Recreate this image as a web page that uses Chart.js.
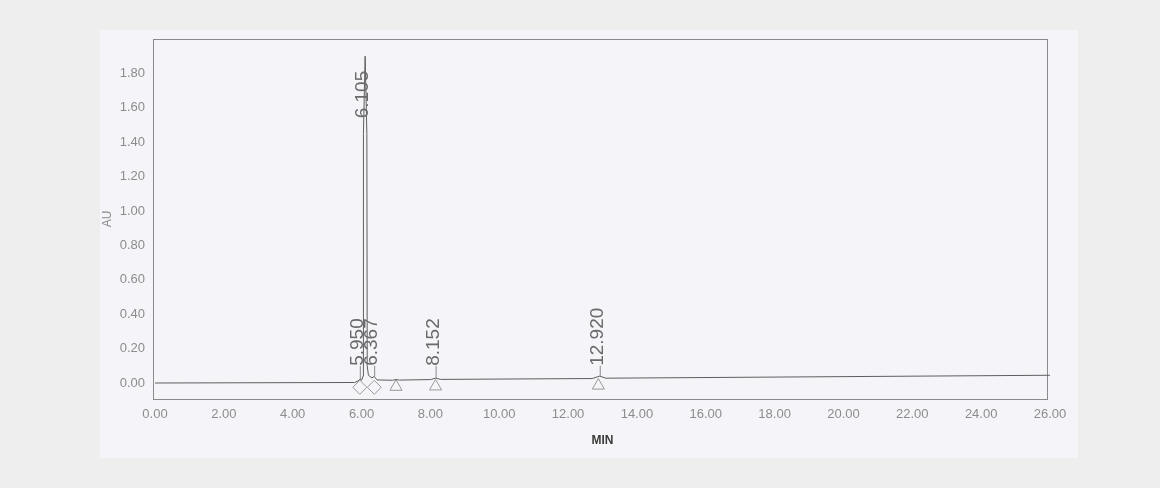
<!DOCTYPE html>
<html>
<head>
<meta charset="utf-8">
<script src="https://cdn.jsdelivr.net/npm/chart.js@4.4.1/dist/chart.umd.min.js"></script>
<style>
  html, body { margin: 0; padding: 0; background: #eeeeee; }
  #wrap { width: 1160px; height: 488px; position: relative; }
</style>
</head>
<body>
<div id="wrap"><canvas id="c" width="1160" height="488"></canvas></div>
<script>
// ---- data ----
const retentionTimes = [0, 5.80, 5.90, 5.95, 6.00, 6.045, 6.055, 6.105, 6.155, 6.165, 6.20, 6.30, 6.367, 6.45, 6.90, 7.00, 7.10, 8.00, 8.152, 8.30, 12.70, 12.92, 13.10, 26.00];
const absorbance     = [0, 0.003, 0.012, 0.022, 0.016, 0.04, 1.45, 1.90, 1.45, 0.10, 0.045, 0.03, 0.038, 0.018, 0.016, 0.02, 0.017, 0.02, 0.028, 0.021, 0.026, 0.04, 0.028, 0.045];

const peakTimes   = [5.950, 6.105, 6.367, 8.152, 12.920];
const peakHeights = [0.022, 1.90, 0.038, 0.028, 0.040];
const peakLabels  = ["5.950", "6.105", "6.367", "8.152", "12.920"];

const markerTimes  = [5.95, 6.37, 7.00, 8.15, 12.88];
const markerValues = [-0.025, -0.025, -0.022, -0.02, -0.015];
const markerShapes = ["rectRot", "rectRot", "triangle", "triangle", "triangle"];

const xTicks = [0, 2, 4, 6, 8, 10, 12, 14, 16, 18, 20, 22, 24, 26];
const yTicks = [0, 0.2, 0.4, 0.6, 0.8, 1.0, 1.2, 1.4, 1.6, 1.8];

// ---- plugins ----
const paperPlugin = {
  id: 'paper',
  beforeDraw(chart) {
    const ctx = chart.ctx;
    ctx.save();
    ctx.fillStyle = '#eeeeee';
    ctx.fillRect(0, 0, chart.width, chart.height);
    ctx.fillStyle = '#f5f5f9';
    ctx.fillRect(100, 30, 978, 428);
    ctx.restore();
  },
  beforeDatasetsDraw(chart) {
    const a = chart.chartArea, ctx = chart.ctx;
    ctx.save();
    ctx.strokeStyle = '#8a8a8a';
    ctx.lineWidth = 1;
    ctx.strokeRect(Math.round(a.left) - 1.5, Math.round(a.top) + 0.5, Math.round(a.right - a.left) - 1, Math.round(a.bottom - a.top));
    ctx.restore();
  }
};

const peakLabelPlugin = {
  id: 'peakLabels',
  afterDatasetsDraw(chart) {
    const ctx = chart.ctx, xs = chart.scales.x, ys = chart.scales.y;
    ctx.save();
    ctx.font = '19px "Liberation Sans", Arial, sans-serif';
    ctx.fillStyle = '#6a6a6a';
    ctx.strokeStyle = '#8a8a8a';
    ctx.lineWidth = 1;
    peakTimes.forEach((t, i) => {
      const h = peakHeights[i];
      const px = xs.getPixelForValue(t);
      const base = h > 0.5 ? h * 0.81 : 0.1;
      const by = ys.getPixelForValue(base);
      if (h <= 0.5) {
        ctx.beginPath();
        ctx.moveTo(px + 0.5, by);
        ctx.lineTo(px + 0.5, ys.getPixelForValue(h));
        ctx.stroke();
      }
      ctx.save();
      ctx.translate(px - 2, by);
      ctx.rotate(-Math.PI / 2);
      ctx.textAlign = 'left';
      ctx.textBaseline = 'middle';
      ctx.fillText(peakLabels[i], 0, 0);
      ctx.restore();
    });
    ctx.restore();
  }
};

// ---- chart ----
const lineData = retentionTimes.map((t, i) => ({ x: t, y: absorbance[i] }));
const markerData = markerTimes.map((t, i) => ({ x: t, y: markerValues[i] }));

new Chart(document.getElementById('c'), {
  type: 'scatter',
  data: {
    datasets: [
      {
        label: 'AU',
        data: lineData,
        showLine: true,
        borderColor: '#5e5e5e',
        borderWidth: 1,
        pointRadius: 0,
        tension: 0
      },
      {
        label: 'marks',
        data: markerData,
        showLine: false,
        pointStyle: markerShapes,
        pointRadius: 7,
        borderColor: '#9a9a9a',
        borderWidth: 1,
        backgroundColor: 'rgba(0,0,0,0)'
      }
    ]
  },
  options: {
    responsive: false,
    animation: false,
    devicePixelRatio: 1,
    layout: { padding: { left: 100, top: 39, right: 110, bottom: 29 } },
    plugins: { legend: { display: false }, tooltip: { enabled: false } },
    scales: {
      x: {
        type: 'linear',
        min: 0, max: 26,
        afterBuildTicks: s => { s.ticks = xTicks.map(v => ({ value: v })); },
        afterFit: s => { s.height = 60; },
        grid: { display: false, drawTicks: false },
        border: { display: false },
        ticks: {
          padding: 8,
          color: '#8c8c8c',
          maxRotation: 0,
          autoSkip: false,
          font: { family: '"Liberation Sans", Arial, sans-serif', size: 13 },
          callback: v => Number(v).toFixed(2)
        },
        title: {
          display: true, text: 'MIN', color: '#3a3a3a',
          padding: { top: 0, bottom: 11 },
          font: { family: '"Liberation Sans", Arial, sans-serif', size: 12, weight: 'bold' }
        }
      },
      y: {
        type: 'linear',
        min: -0.093, max: 2.0,
        afterBuildTicks: s => { s.ticks = yTicks.map(v => ({ value: v })); },
        afterFit: s => { s.width = 55; },
        grid: { display: false, drawTicks: false },
        border: { display: false },
        ticks: {
          padding: 10,
          color: '#8c8c8c',
          font: { family: '"Liberation Sans", Arial, sans-serif', size: 13 },
          callback: v => Number(v).toFixed(2)
        },
        title: {
          display: true, text: 'AU', color: '#8c8c8c',
          padding: { top: 0, bottom: 0 },
          font: { family: '"Liberation Sans", Arial, sans-serif', size: 12 }
        }
      }
    }
  },
  plugins: [paperPlugin, peakLabelPlugin]
});
</script>
</body>
</html>
